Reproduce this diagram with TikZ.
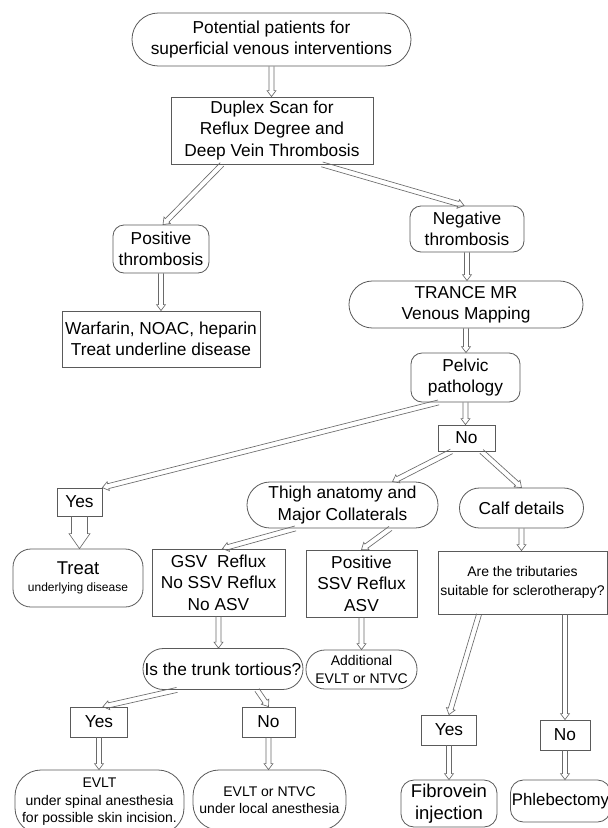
\documentclass[tikz,border=0pt]{standalone}
\usepackage{fontspec}
\setmainfont{Liberation Sans}
\usetikzlibrary{calc}
\definecolor{bordc}{HTML}{5A5A5A}
\definecolor{arrc}{HTML}{6A6A6A}
\newcommand{\fmain}{\fontsize{17.3}{21.5}\selectfont}
\newcommand{\fmid}{\fontsize{14}{17.5}\selectfont}
\newcommand{\fare}{\fontsize{14}{19}\selectfont}
\newcommand{\fbig}{\fontsize{18.5}{22}\selectfont}
\newcommand{\ftiny}{\fontsize{12}{14}\selectfont}
\newcommand{\harrow}[5]{%
  \path (#1) coordinate (hS);
  \path (#2) coordinate (hT);
  \path ($(hT)!#5!(hS)$) coordinate (hB);
  \draw[harr] ($(hS)!#3!90:(hT)$) -- ($(hB)!#3!90:(hT)$) -- ($(hB)!#4!90:(hT)$) -- (hT) -- ($(hB)!#4!-90:(hT)$) -- ($(hB)!#3!-90:(hT)$) -- ($(hS)!#3!-90:(hT)$);
}
\newcommand{\tarrow}[2]{\harrow{#1}{#2}{2.5pt}{4.5pt}{6pt}}
\tikzset{
  base/.style={draw=bordc, line width=0.8pt, align=center, inner sep=0pt, font=\fmain},
  rbox/.style={base, rectangle},
  rnd/.style={base, rounded corners=#1},
  rnd/.default=11pt,
  stad/.style={base, rounded corners=#1},
  harr/.style={draw=arrc, line width=0.65pt, line join=miter},
}
\begin{document}
\begin{tikzpicture}[x=1pt,y=-1pt]
\useasboundingbox (0,0) rectangle (608,828);
\fill[white] (0,0) rectangle (608,828);

\node[stad=26.4pt, minimum width=279pt, minimum height=53pt] (start) at (271.5,39.5) {Potential patients for\\superficial venous interventions};
\node[rbox, minimum width=202pt, minimum height=67pt] (duplex) at (272,130.5) {Duplex Scan for\\Reflux Degree and\\Deep Vein Thrombosis};
\node[rnd, minimum width=96pt, minimum height=48pt] (pos) at (161,249) {Positive\\thrombosis};
\node[rnd, minimum width=114pt, minimum height=46pt] (neg) at (467,229) {Negative\\thrombosis};
\node[rbox, minimum width=198pt, minimum height=56pt] (warf) at (161,339) {Warfarin, NOAC, heparin\\Treat underline disease};
\node[stad=23.4pt, minimum width=234pt, minimum height=47pt] (trance) at (466,304.5) {TRANCE MR\\Venous Mapping};
\node[rnd, minimum width=109pt, minimum height=49pt] (pelvic) at (465.5,377.5) {Pelvic\\pathology};
\node[rbox, minimum width=57pt, minimum height=26pt] (no1) at (466.5,438) {No};
\node[rbox, minimum width=45pt, minimum height=28pt] (yes1) at (79.5,502) {Yes};
\node[stad=22.9pt, minimum width=191pt, minimum height=46pt] (thigh) at (342.5,505) {Thigh anatomy and\\Major Collaterals};
\node[stad=19.9pt, minimum width=124pt, minimum height=40pt] (calf) at (521.5,508) {Calf details};
\node[rnd=18pt, minimum width=130pt, minimum height=58pt] (treat) at (78,578) {{\fontsize{18.5}{20}\selectfont Treat}\\[-5pt]{\ftiny underlying disease}};
\node[rbox, minimum width=133pt, minimum height=67pt] (gsv) at (218.5,582.5) {GSV\ \ Reflux\\No SSV Reflux\\No ASV};
\node[rbox, minimum width=111pt, minimum height=67pt] (possv) at (361.5,583.5) {Positive\\SSV Reflux\\ASV};
\node[rbox, minimum width=169pt, minimum height=63pt, font=\fare] (are) at (522.5,582.5) {Are the tributaries\\suitable for sclerotherapy?};
\node[stad=20.4pt, minimum width=160pt, minimum height=41pt] (trunk) at (223,669) {Is the trunk tortious?};
\node[rnd=19pt, minimum width=111pt, minimum height=39pt, font=\fmid] (addl) at (361.5,669.5) {Additional\\EVLT or NTVC};
\node[rbox, minimum width=57pt, minimum height=30pt] (yes2) at (99,722) {Yes};
\node[rbox, minimum width=53pt, minimum height=30pt] (no2) at (268.5,722) {No};
\node[rnd=26pt, minimum width=169pt, minimum height=64pt, font=\fmid] (evlt) at (99.5,802) {EVLT\\under spinal anesthesia\\for possible skin incision.};
\node[rnd=26pt, minimum width=153pt, minimum height=60pt, font=\fmid] (evltl) at (269.5,800) {EVLT or NTVC\\under local anesthesia};
\node[rbox, minimum width=55pt, minimum height=30pt] (yes3) at (449,730) {Yes};
\node[rbox, minimum width=50pt, minimum height=30pt] (no3) at (565,735) {No};
\node[rnd=13pt, minimum width=96pt, minimum height=47pt, font=\fbig] (fibro) at (449,803.5) {Fibrovein\\injection};
\node[rnd=13pt, minimum height=42pt, font=\fontsize{16.8}{20}\selectfont, inner xsep=1.5pt, anchor=west] (phleb) at (510,801) {Phlebectomy};

\tarrow{start.south}{start.south |- duplex.north}
\tarrow{$(duplex.south)+(-50,0)$}{$(pos.north)+(2,0)$}
\tarrow{$(duplex.south)+(50,0)$}{$(neg.north)+(-3,0)$}
\tarrow{pos.south}{warf.north}
\tarrow{neg.south}{neg.south |- trance.north}
\tarrow{trance.south}{trance.south |- pelvic.north}
\tarrow{pelvic.south}{pelvic.south |- no1.north}
\tarrow{$(pelvic.south west)+(28,0)$}{yes1.north east}
\tarrow{$(no1.south)+(-15,0)$}{$(thigh.north)+(50,0)$}
\tarrow{$(no1.south)+(15,0)$}{calf.north}
\harrow{yes1.south}{yes1.south |- treat.north}{8pt}{10.5pt}{15pt}
\tarrow{$(thigh.south)+(-47,0)$}{$(gsv.north)+(4,0)$}
\tarrow{$(thigh.south)+(48,0)$}{possv.north}
\tarrow{calf.south}{calf.south |- are.north}
\tarrow{gsv.south}{gsv.south |- trunk.north}
\tarrow{possv.south}{addl.north}
\tarrow{$(trunk.south)+(-46,0)$}{$(yes2.north)+(4,0)$}
\tarrow{$(trunk.south)+(34,0)$}{no2.north}
\tarrow{yes2.south}{yes2.south |- evlt.north}
\tarrow{no2.south}{no2.south |- evltl.north}
\tarrow{$(are.south)+(-43.5,0)$}{yes3.north}
\tarrow{$(are.south)+(42.5,0)$}{no3.north}
\tarrow{yes3.south}{fibro.north}
\tarrow{no3.south}{no3.south |- phleb.north}
\end{tikzpicture}
\end{document}
